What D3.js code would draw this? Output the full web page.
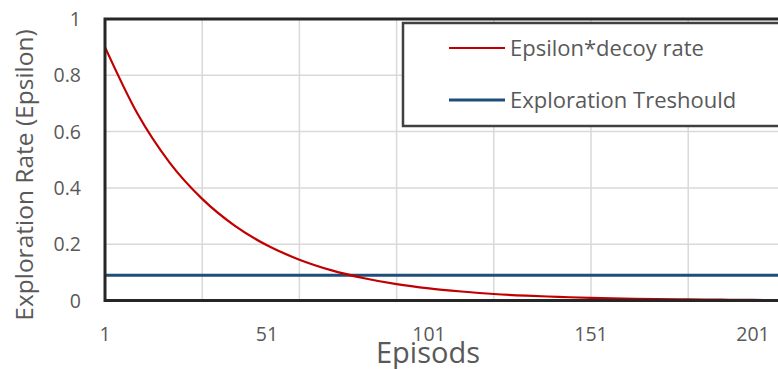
<!DOCTYPE html>
<html><head><meta charset="utf-8">
<script src="https://cdn.jsdelivr.net/npm/d3@7"></script>
<style>html,body{margin:0;padding:0;background:#fff;overflow:hidden}</style>
</head><body>
<svg id="c" width="778" height="369"></svg>
<script>
const episodes = [1,11,21,31,41,51,61,71,81,91,101,111,121,131,141,151,161,171,181,191,201,211];
const epsilonDecay = [0.900,0.664,0.489,0.361,0.266,0.196,0.145,0.107,0.079,0.058,0.043,0.032,0.023,0.017,0.013,0.009,0.007,0.005,0.004,0.003,0.002,0.0015];
const thresholdValue = 0.09;
const xTickLabels = [1,51,101,151,201];
const xGridEpisodes = [31,61,91,121,151,181,211];
const yTicks = [0,0.2,0.4,0.6,0.8,1];
const seriesNames = ["Epsilon*decoy rate","Exploration Treshould"];
const colors = ["#C00000","#1F4E79"];

const svg = d3.select("#c");
const L = 105, T = 19, B = 300.5, R = 830;
const x = d3.scaleLinear().domain([1,201]).range([L, L + 200*3.24]);
const y = d3.scaleLinear().domain([0,1]).range([B, T]);
const font = "'Open Sans', sans-serif";
const txt = "#595959";

// gridlines
svg.append("g").selectAll("line").data(yTicks.filter(d=>d>0 && d<1)).join("line")
  .attr("x1",L).attr("x2",R).attr("y1",d=>y(d)).attr("y2",d=>y(d))
  .attr("stroke","#d9d9d9").attr("stroke-width",1.5);
svg.append("g").selectAll("line").data(xGridEpisodes).join("line")
  .attr("x1",d=>x(d)).attr("x2",d=>x(d)).attr("y1",T).attr("y2",B)
  .attr("stroke","#d9d9d9").attr("stroke-width",1.5);

// threshold line
svg.append("line").attr("x1",L).attr("x2",R)
  .attr("y1",y(thresholdValue)).attr("y2",y(thresholdValue))
  .attr("stroke",colors[1]).attr("stroke-width",3);

// epsilon curve
const line = d3.line().x((d,i)=>x(episodes[i])).y(d=>y(d)).curve(d3.curveMonotoneX);
svg.append("path").datum(epsilonDecay).attr("d",line)
  .attr("fill","none").attr("stroke",colors[0]).attr("stroke-width",2.2);

// frame
svg.append("rect").attr("x",L).attr("y",T).attr("width",R-L).attr("height",B-T)
  .attr("fill","none").attr("stroke","#262626").attr("stroke-width",3);

// y axis labels
svg.append("g").selectAll("text").data(yTicks).join("text")
  .attr("x",81).attr("y",d=>y(d)+7).attr("text-anchor","end")
  .attr("font-family",font).attr("font-size",19.5).attr("fill",txt)
  .text(d=>d3.format("~g")(d));

// x axis labels
svg.append("g").selectAll("text").data(xTickLabels).join("text")
  .attr("x",d=>x(d)).attr("y",341).attr("text-anchor","middle")
  .attr("font-family",font).attr("font-size",19.5).attr("fill",txt)
  .text(d=>d);

// axis titles
svg.append("text").attr("x",428).attr("y",363).attr("text-anchor","middle")
  .attr("font-family",font).attr("font-size",29).attr("fill",txt).text("Episods");
svg.append("text").attr("transform","translate(33,175) rotate(-90)").attr("text-anchor","middle")
  .attr("font-family",font).attr("font-size",24.5).attr("fill",txt).text("Exploration Rate (Epsilon)");

// legend
const lg = svg.append("g");
lg.append("rect").attr("x",403).attr("y",23).attr("width",420).attr("height",103)
  .attr("fill","#fff").attr("stroke","#404040").attr("stroke-width",2.5);
const ly = [48,100];
seriesNames.forEach((n,i)=>{
  lg.append("line").attr("x1",449).attr("x2",505).attr("y1",ly[i]).attr("y2",ly[i])
    .attr("stroke",colors[i]).attr("stroke-width",i===0?2.2:3);
  lg.append("text").attr("x",510).attr("y",ly[i]+7.5).attr("font-family",font)
    .attr("font-size",22).attr("fill",txt).text(n);
});
</script>
</body></html>
